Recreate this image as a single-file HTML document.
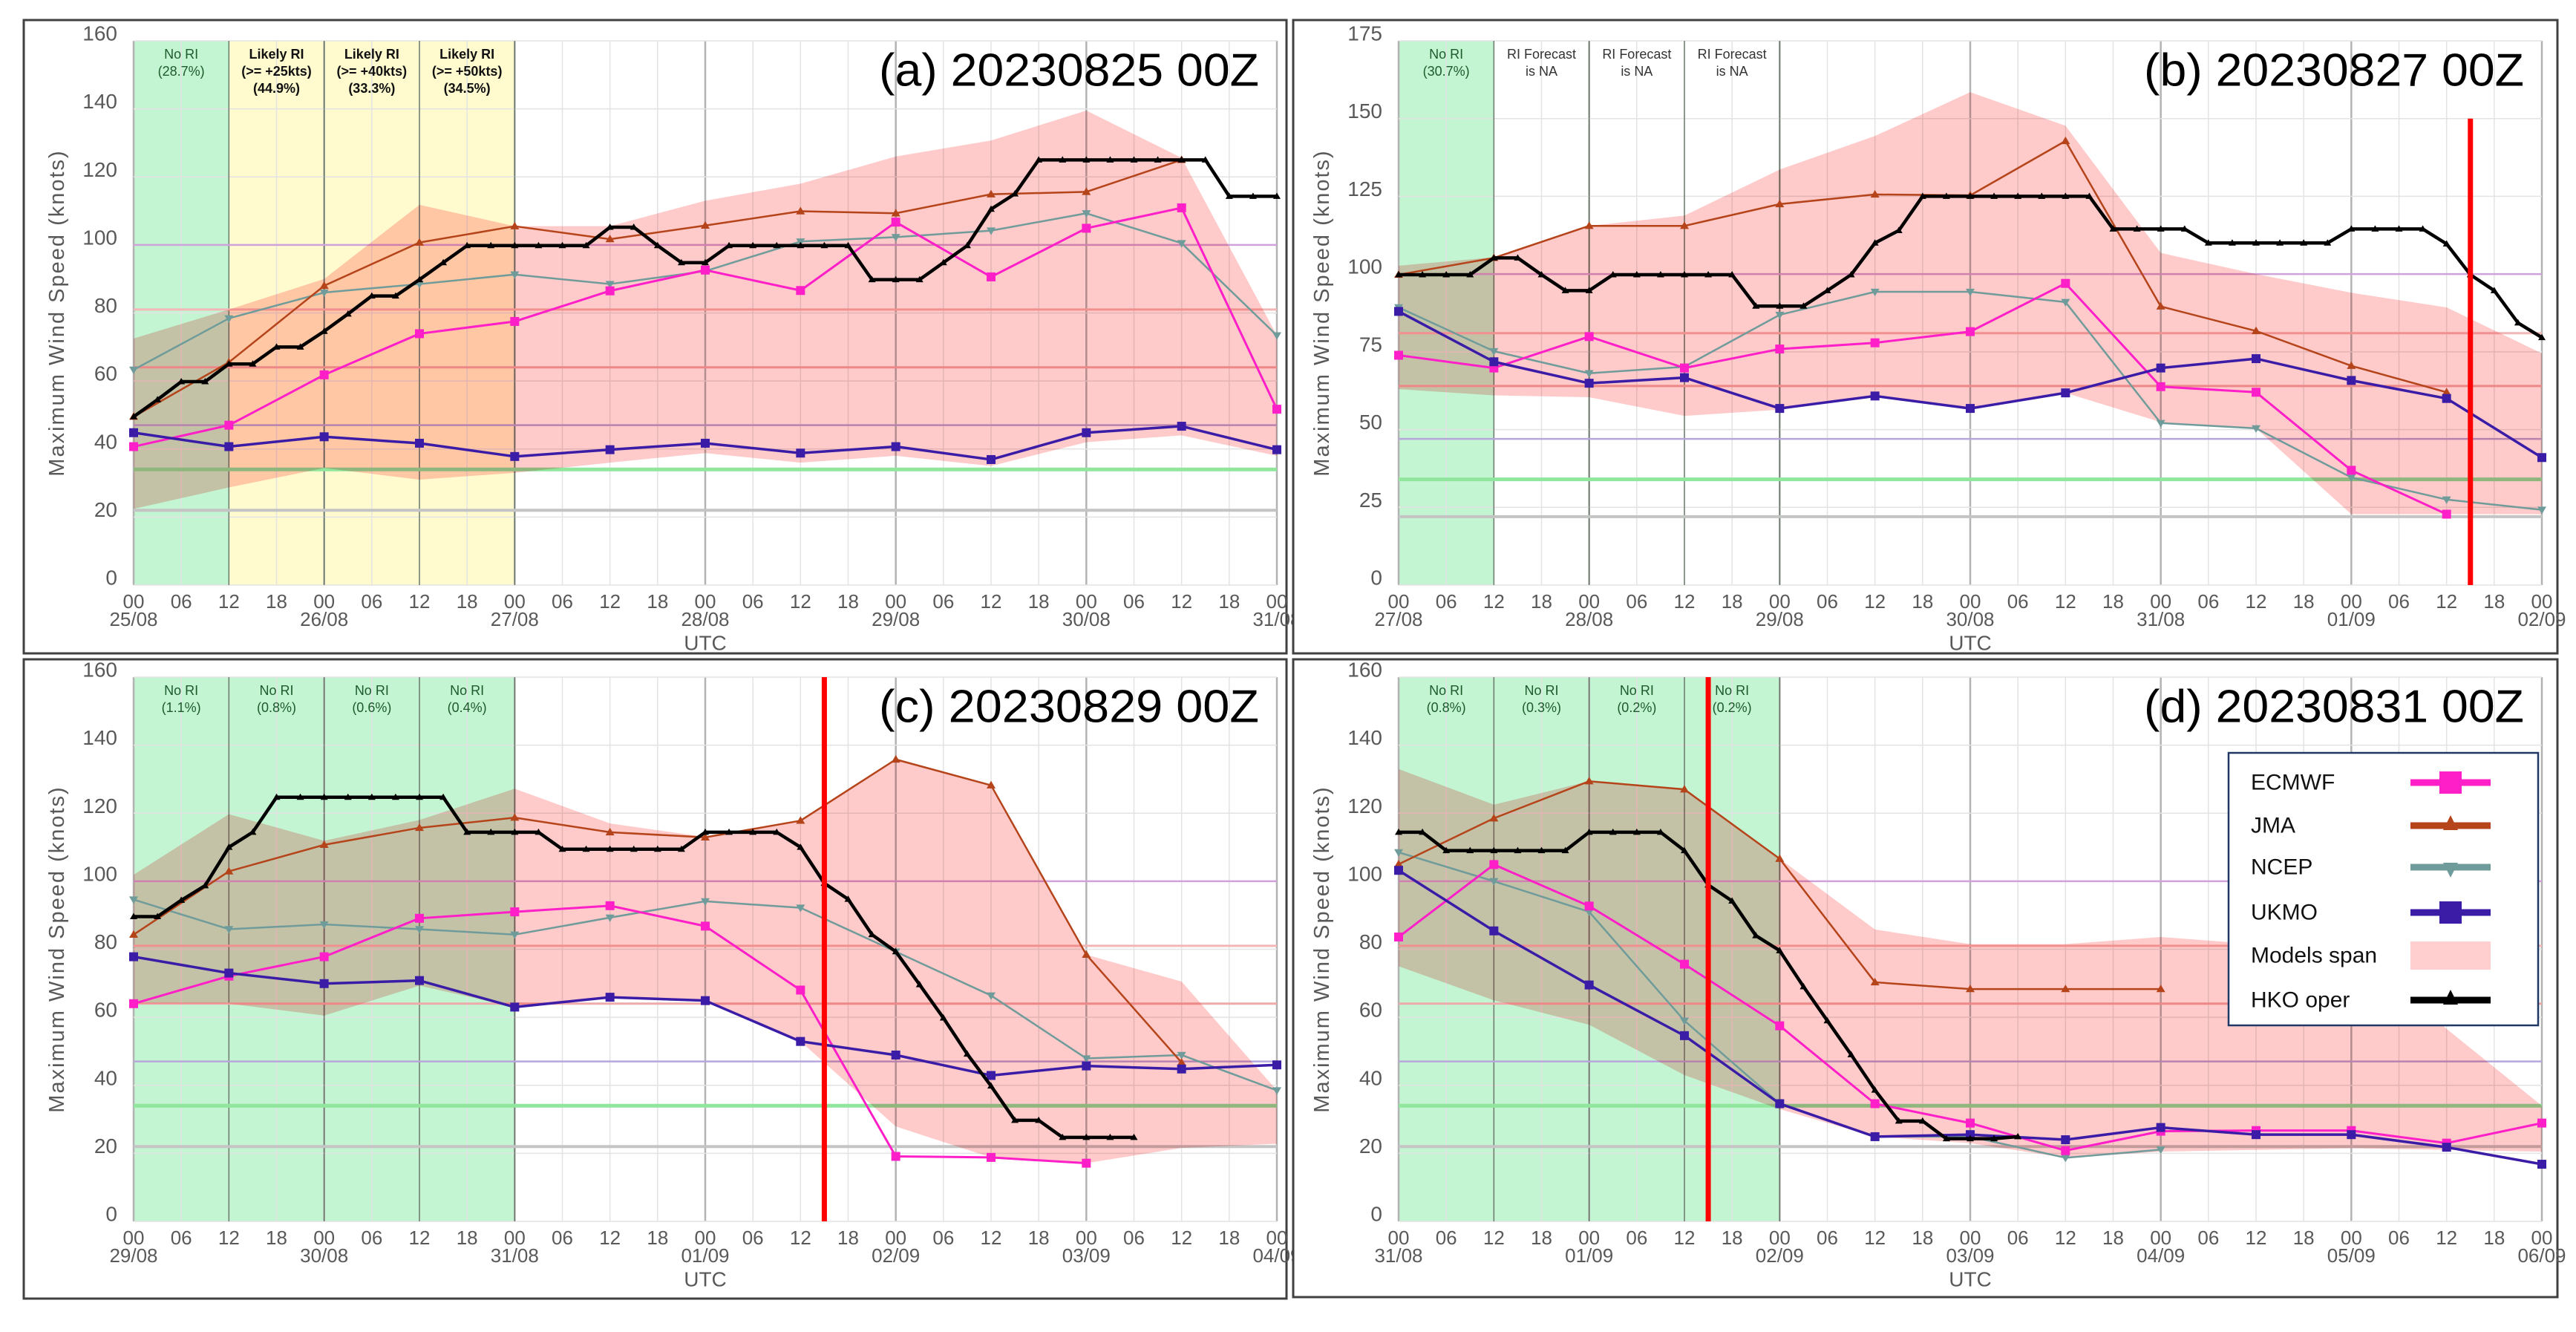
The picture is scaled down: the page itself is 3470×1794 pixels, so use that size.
<!DOCTYPE html>
<html><head><meta charset="utf-8">
<style>
html,body{margin:0;padding:0;background:#fff;}
svg{display:block;font-family:"Liberation Sans",sans-serif;}
</style></head>
<body>
<svg id="fig" width="3470" height="1794" viewBox="0 0 3470 1794" xmlns="http://www.w3.org/2000/svg">
<rect x="0" y="0" width="3470" height="1794" fill="#fff"/>
</svg>
<script>
// ---------- data (knots) ----------
const DATES_A = ["25/08","26/08","27/08","28/08","29/08","30/08","31/08"];
const DATES_B = ["27/08","28/08","29/08","30/08","31/08","01/09","02/09"];
const DATES_C = ["29/08","30/08","31/08","01/09","02/09","03/09","04/09"];
const DATES_D = ["31/08","01/09","02/09","03/09","04/09","05/09","06/09"];
const HOUR_LABELS = ["00","06","12","18"];
const YTICKS_160 = [0,20,40,60,80,100,120,140,160];
const YTICKS_175 = [0,25,50,75,100,125,150,175];
const THRESHOLDS = [22,34,47,64,81,100];

const A_ECMWF=[40.7,47,61.8,73.9,77.5,86.5,92.6,86.6,106.7,90.6,104.9,110.9,51.7];
const A_JMA=[49.5,65.5,88,100.7,105.5,101.7,105.7,109.9,109.3,114.9,115.6,125];
const A_NCEP=[63.3,78.4,86,88.5,91.3,88.5,92.3,101,102.3,104.2,109.3,100.5,73.4];
const A_UKMO=[44.8,40.7,43.6,41.7,37.8,39.8,41.7,38.8,40.7,36.9,44.8,46.7,39.8];
const A_HKO=[49.5,54.5,59.8,59.8,65,65,70,70,74.6,79.7,85,85,89.8,94.8,99.8,99.8,99.8,99.8,99.8,99.8,105.2,105.2,99.8,94.8,94.8,99.8,99.8,99.8,99.8,99.8,99.8,89.8,89.8,89.8,94.8,99.8,110.5,115,125,125,125,125,125,125,125,125,114.3,114.3,114.3];
const A_SPAN_TOP=[72.5,81,90,111.8,105.5,105.5,113,118,126,130.7,139.5,125.6,73.4];
const A_SPAN_BOT=[22.4,28.7,34.4,31,33,36,38.8,36,38,35,42,44,38];

const B_ECMWF=[73.9,69.8,79.9,69.8,75.9,77.9,81.5,97,63.8,62,36.9,22.8];
const B_JMA=[99.8,105.2,115.5,115.5,122.5,125.6,125.3,142.8,89.6,81.7,70.5,62];
const B_NCEP=[89.3,75.2,68.1,70.2,86.9,94.3,94.3,91,52.1,50.4,34.6,27.5,24.2];
const B_UKMO=[88,71.8,64.9,66.7,56.8,60.8,56.8,61.8,69.8,72.8,65.8,60,41];
const B_HKO=[99.8,99.8,99.8,99.8,105.2,105.2,99.8,94.7,94.7,99.8,99.8,99.8,99.8,99.8,99.8,89.7,89.7,89.7,94.7,99.8,110,114,125,125,125,125,125,125,125,125,114.5,114.5,114.5,114.5,110,110,110,110,110,110,114.5,114.5,114.5,114.5,109.7,99.8,94.7,84.3,79.6];
const B_SPAN_TOP=[102.7,105.4,115.5,118.8,133.6,144.4,158.5,147.7,106.8,100,94,89.3,74.5];
const B_SPAN_BOT=[63,61,60.4,54.4,56.4,60.8,56.8,61.8,52.4,50.4,22.8,22.8,22.8];

const C_ECMWF=[64,72.1,77.8,89.1,91,92.8,86.8,68,19.1,18.8,17.1];
const C_JMA=[84.3,102.9,110.7,115.7,118.7,114.4,112.9,117.8,135.8,128.2,78.4,46.7];
const C_NCEP=[94.6,85.9,87.3,85.9,84.3,89.3,94.1,92.2,79.3,66.4,47.9,48.9,38.5];
const C_UKMO=[77.8,73,69.9,70.8,63,65.9,64.9,52.9,48.9,42.9,45.7,44.8,46];
const C_HKO=[89.6,89.6,94.4,98.7,110,114.4,124.7,124.7,124.7,124.7,124.7,124.7,124.7,124.7,114.4,114.4,114.4,114.4,109.4,109.4,109.4,109.4,109.4,109.4,114.4,114.4,114.4,114.4,110,99.4,94.7,84.3,79.3,69.6,59.8,49.2,39.8,29.7,29.7,24.7,24.7,24.7,24.7];
const C_SPAN_TOP=[101.9,119.7,111.9,118,127.2,117,113,117.8,135.8,128.2,78.4,70.5,38.5];
const C_SPAN_BOT=[64,64,60.5,69.3,63,65.9,64.9,52.9,27.9,18.8,17.1,21.6,22.8];

const D_ECMWF=[83.6,104.9,92.7,75.6,57.5,34.6,28.9,20.8,26.5,26.7,26.7,23,28.9];
const D_JMA=[105,118.5,129.4,127,106.6,70.3,68.3,68.3,68.3];
const D_NCEP=[108.5,100,91,59,34.6,24.9,24.9,18.7,21.1];
const D_UKMO=[103.2,85.4,69.5,54.6,34.6,24.9,25.5,24,27.6,25.5,25.5,21.8,16.8];
const D_HKO=[114.4,114.4,109,109,109,109,109,109,114.4,114.4,114.4,114.4,109,98.9,94.2,84,79.6,69,59,49,38.6,29.5,29.5,24.3,24.3,24.3,24.9];
const D_SPAN_TOP=[133,122.5,129.4,127,106.6,85.8,81.5,81.5,83.6,81.5,81.5,56.6,34];
const D_SPAN_BOT=[75,65,57.8,43,33,24.9,23,18.7,20.5,21,21.5,21,20.5];

const A_RI_TOP=["No RI","Likely RI","Likely RI","Likely RI"];
const A_RI_MID=["(28.7%)","(>= +25kts)","(>= +40kts)","(>= +50kts)"];
const A_RI_BOT=["","(44.9%)","(33.3%)","(34.5%)"];
const B_RI_TOP=["No RI","RI Forecast","RI Forecast","RI Forecast"];
const B_RI_MID=["(30.7%)","is NA","is NA","is NA"];
const C_RI_MID=["(1.1%)","(0.8%)","(0.6%)","(0.4%)"];
const D_RI_MID=["(0.8%)","(0.3%)","(0.2%)","(0.2%)"];

// ---------- drawing ----------
const NS="http://www.w3.org/2000/svg";
const svg=document.getElementById('fig');
function mk(tag,attrs,parent){const e=document.createElementNS(NS,tag);for(const k in attrs)e.setAttribute(k,attrs[k]);(parent||svg).appendChild(e);return e;}

const COLORS={ecmwf:"#ff1fc8",jma:"#b5441a",ncep:"#6f9c9a",ukmo:"#3a1ca6",hko:"#000"};
const THR_COLORS=["#c4c4c4","#8fe69c","#b7a6dc","#eeaaaa","#f2b6b6","#cfa2dc"];
const THR_W=[4,5,2.5,3,3,2.5];

function panel(p){
  const g=mk('g',{});
  
  
  const X=h=>p.x0+h*(p.x1-p.x0)/144;
  const Y=v=>p.y0-v*(p.y0-p.yT)/p.vmax;
  // frame
  const fr=mk('rect',{x:p.fx,y:p.fy,width:p.fw,height:p.fh,fill:'#fff',stroke:'#404040','stroke-width':3},g);
  
  
  // zones
  for(const z of p.zones){
    const r=mk('rect',{x:X(z[0]),y:p.yT,width:X(z[1])-X(z[0]),height:p.y0-p.yT,fill:z[2]},g);
    
    
  }
  // grid vertical
  for(let h=0;h<=144;h+=6){
    const day=h%24===0;
    const l=mk('line',{x1:X(h),x2:X(h),y1:p.yT,y2:p.y0,stroke:day?'#b3b3b3':'#e3e3e3','stroke-width':day?2.5:1.5},g);
    
    
  }
  for(const v of p.yticks){
    const l=mk('line',{x1:p.x0,x2:p.x1,y1:Y(v),y2:Y(v),stroke:'#e3e3e3','stroke-width':1.5},g);
    
    
  }
  // separators
  for(const h of p.seps){
    const l=mk('line',{x1:X(h),x2:X(h),y1:p.yT,y2:p.y0,stroke:'#6b7a6b','stroke-width':1.5},g);
    
    
  }
  // thresholds
  THRESHOLDS.forEach((v,i)=>{
    const l=mk('line',{x1:p.x0,x2:p.x1,y1:Y(v),y2:Y(v),stroke:THR_COLORS[i],'stroke-width':THR_W[i]},g);
    
    
  });
  // span
  let pts=p.spanTop.map((v,i)=>X(i*12)+','+Y(v));
  pts=pts.concat(p.spanBot.map((v,i)=>X(i*12)+','+Y(v)).reverse());
  const sp=mk('polygon',{points:pts.join(' '),fill:'#ffcaca',style:'mix-blend-mode:multiply'},g);
  
  
  // axis ticks
  for(const v of p.yticks){
    const t=mk('text',{x:p.x0-22,y:Y(v)-10,'text-anchor':'end','dominant-baseline':'central','font-size':28,fill:'#595959'},g);
    t.textContent=v;
    
    
  }
  for(let h=0;h<=144;h+=6){
    const t=mk('text',{x:X(h),y:p.y0+22,'text-anchor':'middle','dominant-baseline':'central','font-size':26,fill:'#595959'},g);
    t.textContent=HOUR_LABELS[(h/6)%4];
    
    
  }
  p.dates.forEach((d,i)=>{
    const t=mk('text',{x:X(i*24),y:p.y0+46,'text-anchor':'middle','dominant-baseline':'central','font-size':26,fill:'#595959'},g);
    t.textContent=d;
    
    
  });
  const ut=mk('text',{x:(p.x0+p.x1)/2,y:p.y0+78,'text-anchor':'middle','dominant-baseline':'central','font-size':28,fill:'#595959'},g);
  ut.textContent='UTC';
  
  
  const yc=(p.y0+p.yT)/2;
  const yt=mk('text',{x:p.x0-103,y:yc,'text-anchor':'middle','dominant-baseline':'central','font-size':29,fill:'#595959','letter-spacing':2,transform:`rotate(-90 ${p.x0-103} ${yc})`},g);
  yt.textContent='Maximum Wind Speed (knots)';
  
  
  // RI text
  for(let i=0;i<4;i++){
    const cx=X(6+12*i);
    const lines=[p.riTop[i],p.riMid[i],p.riBot?p.riBot[i]:""];
    lines.forEach((s,k)=>{
      if(!s)return;
      const t=mk('text',{x:cx,y:p.yT+18+k*23,'text-anchor':'middle','dominant-baseline':'central','font-size':18,fill:p.riColor(i),'font-weight':p.riBold(i)?'bold':'normal'},g);
      t.textContent=s;
      
      
    });
  }
  // series
  const series=[['ncep',p.ncep,12,2.5,'tridown'],['jma',p.jma,12,2.5,'tri'],['ecmwf',p.ecmwf,12,3,'sq'],['ukmo',p.ukmo,12,3.5,'sq'],['hko',p.hko,3,4.5,'tri']];
  for(const [name,data,step,w,mkType] of series){
    const sg=mk('g',{},g);
    
    
    const pl=mk('polyline',{points:data.map((v,i)=>X(i*step)+','+Y(v)).join(' '),fill:'none',stroke:COLORS[name],'stroke-width':w,'stroke-linejoin':'round'},sg);
    
    
    data.forEach((v,i)=>{
      const cx=X(i*step),cy=Y(v);let m;
      const s=name==='hko'?5:(mkType==='sq'?6:6);
      if(mkType==='sq') m=mk('rect',{x:cx-s,y:cy-s,width:2*s,height:2*s,fill:COLORS[name]},sg);
      else if(mkType==='tri') m=mk('polygon',{points:`${cx},${cy-s} ${cx-s},${cy+s*0.7} ${cx+s},${cy+s*0.7}`,fill:COLORS[name]},sg);
      else m=mk('polygon',{points:`${cx},${cy+s} ${cx-s},${cy-s*0.7} ${cx+s},${cy-s*0.7}`,fill:COLORS[name]},sg);
      
      
    });
  }
  if(p.redH!==null){
    const rl=mk('line',{x1:X(p.redH),x2:X(p.redH),y1:Y(p.redTop),y2:p.y0,stroke:'#ff0000','stroke-width':7},g);
    
    
  }
  const tt=mk('text',{x:p.x1-24,y:p.yT+40,'text-anchor':'end','dominant-baseline':'central','font-size':62,fill:'#000',textLength:512,lengthAdjust:'spacingAndGlyphs'},g);
  tt.textContent=p.title;
  
  
}

const GREEN='#c3f5d2',YELLOW='#fffbcf';
const greenTxt=()=>'#1d5a2c';
panel({id:'a',x0:180,x1:1720,y0:788,yT:55,vmax:160,yticks:YTICKS_160,fx:32,fy:27,fw:1701,fh:853,
  zones:[[0,12,GREEN],[12,48,YELLOW]],seps:[12,24,36,48],dates:DATES_A,
  ecmwf:A_ECMWF,jma:A_JMA,ncep:A_NCEP,ukmo:A_UKMO,hko:A_HKO,spanTop:A_SPAN_TOP,spanBot:A_SPAN_BOT,
  riTop:A_RI_TOP,riMid:A_RI_MID,riBot:A_RI_BOT,riColor:i=>i===0?'#1d5a2c':'#111',riBold:i=>i>0,
  redH:null,redTop:0,title:'(a) 20230825 00Z'});
panel({id:'b',x0:1884,x1:3424,y0:788,yT:55,vmax:175,yticks:YTICKS_175,fx:1742,fy:27,fw:1703,fh:853,
  zones:[[0,12,GREEN]],seps:[12,24,36,48],dates:DATES_B,
  ecmwf:B_ECMWF,jma:B_JMA,ncep:B_NCEP,ukmo:B_UKMO,hko:B_HKO,spanTop:B_SPAN_TOP,spanBot:B_SPAN_BOT,
  riTop:B_RI_TOP,riMid:B_RI_MID,riBot:null,riColor:i=>i===0?'#1d5a2c':'#333',riBold:()=>false,
  redH:135,redTop:150,title:'(b) 20230827 00Z'});
panel({id:'c',x0:180,x1:1720,y0:1645,yT:912,vmax:160,yticks:YTICKS_160,fx:32,fy:888,fw:1701,fh:861,
  zones:[[0,48,GREEN]],seps:[12,24,36,48],dates:DATES_C,
  ecmwf:C_ECMWF,jma:C_JMA,ncep:C_NCEP,ukmo:C_UKMO,hko:C_HKO,spanTop:C_SPAN_TOP,spanBot:C_SPAN_BOT,
  riTop:["No RI","No RI","No RI","No RI"],riMid:C_RI_MID,riBot:null,riColor:greenTxt,riBold:()=>false,
  redH:87,redTop:160,title:'(c) 20230829 00Z'});
panel({id:'d',x0:1884,x1:3424,y0:1645,yT:912,vmax:160,yticks:YTICKS_160,fx:1742,fy:888,fw:1703,fh:859,
  zones:[[0,48,GREEN]],seps:[12,24,36,48],dates:DATES_D,
  ecmwf:D_ECMWF,jma:D_JMA,ncep:D_NCEP,ukmo:D_UKMO,hko:D_HKO,spanTop:D_SPAN_TOP,spanBot:D_SPAN_BOT,
  riTop:["No RI","No RI","No RI","No RI"],riMid:D_RI_MID,riBot:null,riColor:greenTxt,riBold:()=>false,
  redH:39,redTop:160,title:'(d) 20230831 00Z'});

// legend
const lg=mk('g',{});


const lbox=mk('rect',{x:3002,y:1014,width:417,height:367,fill:'#fff',stroke:'#1f3864','stroke-width':2.5},lg);


const LEG_NAMES=["ECMWF","JMA","NCEP","UKMO","Models span","HKO oper"];
const LEG_KEYS=["ecmwf","jma","ncep","ukmo","span","hko"];
const LEG_Y=[1054,1112,1168,1229,1287,1347];
LEG_NAMES.forEach((n,i)=>{
  const eg=mk('g',{},lg);
  
  
  const t=mk('text',{x:3032,y:LEG_Y[i],'dominant-baseline':'central','font-size':30,fill:'#111'},eg);
  t.textContent=n;
  
  
  const k=LEG_KEYS[i];let s;
  if(k==='span'){
    s=mk('rect',{x:3247,y:LEG_Y[i]-19,width:108,height:38,fill:'#ffcfcf'},eg);
  } else {
    s=mk('line',{x1:3247,x2:3355,y1:LEG_Y[i],y2:LEG_Y[i],stroke:COLORS[k],'stroke-width':9},eg);
    let m;const cx=3301,cy=LEG_Y[i];
    if(k==='ecmwf'||k==='ukmo') m=mk('rect',{x:cx-15,y:cy-15,width:30,height:30,fill:COLORS[k]},eg);
    else if(k==='ncep') m=mk('polygon',{points:`${cx},${cy+14} ${cx-10},${cy-6} ${cx+10},${cy-6}`,fill:COLORS[k]},eg);
    else m=mk('polygon',{points:`${cx},${cy-14} ${cx-10},${cy+6} ${cx+10},${cy+6}`,fill:COLORS[k]},eg);
    
    
  }
  
  
});
</script>
</body></html>
